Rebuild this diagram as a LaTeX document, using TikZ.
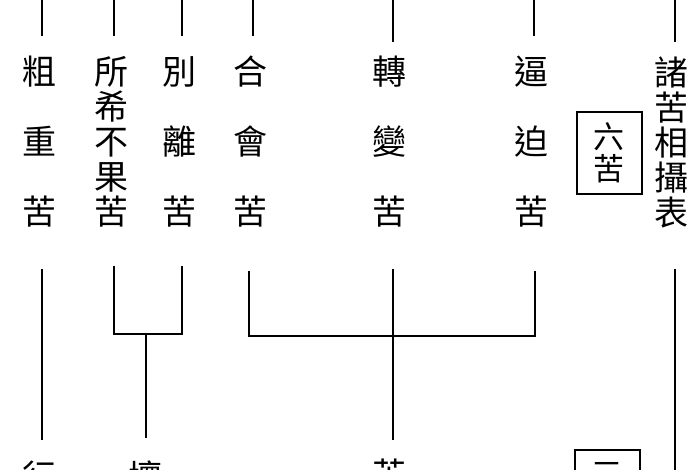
\documentclass[tikz,border=0pt]{standalone}
\usepackage{fontspec}
\newfontfamily\cjk{Noto Sans CJK TC}
\usetikzlibrary{calc}
\tikzset{
  col/.style={font=\cjk\fontsize{34}{70}\selectfont, align=center, inner sep=0pt},
  tight/.style={col, font=\cjk\fontsize{34}{35}\selectfont},
  link/.style={line width=2.5pt},
  kubox/.style={draw, line width=2pt, font=\cjk\fontsize{31}{32}\selectfont, align=center,
    minimum width=65pt, minimum height=82pt, inner sep=0pt}
}

\begin{document}
\begin{tikzpicture}[x=1pt,y=-1pt]
			%%%%% FRAME %%%%%
			\useasboundingbox (0,0) rectangle (700,470);
			\clip (0,0) rectangle (700,470);
			\fill[white] (0,0) rectangle (700,470);
			
			%%%%% TOP ROW %%%%%
			\node[col] (cuzhong) at (39,142) {粗\\重\\苦};
			\node[tight] (suoxi) at (111,142) {所\\希\\不\\果\\苦};
			\node[col] (bieli) at (179,142) {別\\離\\苦};
			\node[col] (hehui) at (250,142) {合\\會\\苦};
			\node[col] (zhuanbian) at (389,142) {轉\\變\\苦};
			\node[col] (bipo) at (531,142) {逼\\迫\\苦};
			\node[kubox] (liuku) at (609,153) {六\\苦};
			\node[tight] (zhuku) at (671,142) {諸\\苦\\相\\攝\\表};
			
			%%%%% BOTTOM ROW %%%%%
			\node[col, anchor=north] (xing) at (39,461) {行};
			\node[col, anchor=north] (huai) at (145,461) {壞};
			\node[col, anchor=north] (kuku) at (389,459) {苦};
			\node[kubox, anchor=north] (sanku) at (607,449) {三\\\phantom{苦}};
			
			%%%%% LINES UP %%%%%
			\foreach \n in {cuzhong,suoxi,bieli,hehui,bipo}
				\draw[link] ($(\n.north)+(3,-20)$) -- ++(0,-40);
			\foreach \n in {zhuanbian,zhuku}
				\draw[link] ($(\n.north)+(4,-14)$) -- ++(0,-46);
			
			%%%%% LINES DOWN %%%%%
			\coordinate (shiu) at (146,334);
			\coordinate (ku2) at (393,336);
			\draw[link] ($(cuzhong.south)+(3,41)$) -- ($(xing.north)+(3,-21)$);
			\draw[link] ($(suoxi.south)+(3,38)$) |- (shiu) -| ($(bieli.south)+(3,38)$);
			\draw[link] (shiu) -- ($(huai.north)+(1,-23)$);
			\draw[link] ($(hehui.south)+(-1,43)$) |- (ku2) -| ($(bipo.south)+(4,43)$);
			\draw[link] ($(zhuanbian.south)+(4,41)$) -- ($(kuku.north)+(4,-19)$);
			\draw[link] ($(zhuku.south)+(4,41)$) -- ++(0,220);
			
		\end{tikzpicture}
\end{document}
